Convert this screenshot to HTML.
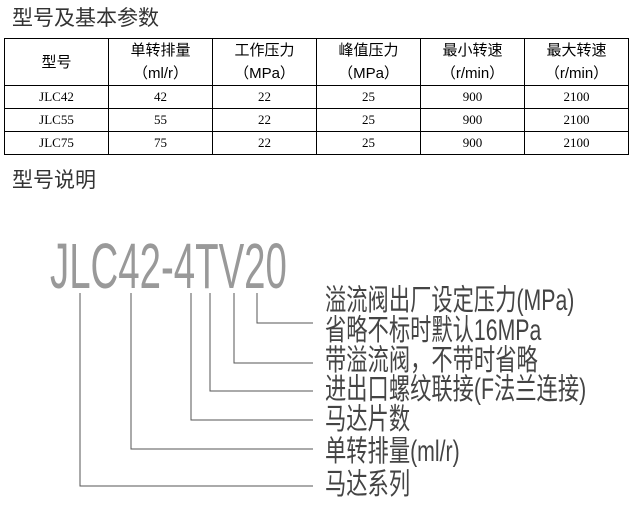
<!DOCTYPE html>
<html><head><meta charset="utf-8"><style>
html,body{margin:0;padding:0;background:#fff;width:633px;height:513px;overflow:hidden;position:relative}
.h{position:absolute;left:12px;font:21px "Liberation Sans","Noto Sans CJK SC",sans-serif;color:#333}
table{position:absolute;left:4px;top:38px;border-collapse:collapse;font:13px "Liberation Serif","Noto Serif CJK SC","Noto Sans CJK SC",serif;color:#000}
td{border:1px solid #000;text-align:center;padding:0;width:103px}
tr.hd td{height:46px;font-size:15px;line-height:23px;font-family:"Liberation Sans","Noto Sans CJK SC",sans-serif}
tr.r td{height:22px}
svg{position:absolute;left:0;top:0}
</style></head><body>
<div class="h" style="top:2px">型号及基本参数</div>
<table>
<tr class="hd"><td>型号</td><td>单转排量<br>（ml/r）</td><td>工作压力<br>（MPa）</td><td>峰值压力<br>（MPa）</td><td>最小转速<br>（r/min）</td><td>最大转速<br>（r/min）</td></tr>
<tr class="r"><td>JLC42</td><td>42</td><td>22</td><td>25</td><td>900</td><td>2100</td></tr>
<tr class="r"><td>JLC55</td><td>55</td><td>22</td><td>25</td><td>900</td><td>2100</td></tr>
<tr class="r"><td>JLC75</td><td>75</td><td>22</td><td>25</td><td>900</td><td>2100</td></tr>
</table>
<div class="h" style="top:164px">型号说明</div>
<svg width="633" height="513" viewBox="0 0 633 513">
<g stroke="#555" stroke-width="1" fill="none">
<polyline points="80,293 80,486 313,486"/>
<polyline points="131,293 131,449 313,449"/>
<polyline points="191,293 191,420 313,420"/>
<polyline points="210,293 210,391 313,391"/>
<polyline points="234,293 234,363 313,363"/>
<polyline points="257,293 257,323 313,323"/>
</g>
<g transform="translate(50,288) scale(0.6,1)">
<text x="0" y="0" font-family="Liberation Sans, sans-serif" font-size="64" fill="#999">JLC42-4TV20</text>
</g>
<g font-family="Liberation Sans, Noto Sans CJK SC, sans-serif" font-size="28" fill="#444">
<text transform="translate(325,310) scale(0.76,1.05)">溢流阀出厂设定压力(MPa)</text>
<text transform="translate(325,340) scale(0.76,1.05)">省略不标时默认16MPa</text>
<text transform="translate(325,370) scale(0.76,1.05)">带溢流阀，不带时省略</text>
<text transform="translate(325,399) scale(0.76,1.05)">进出口螺纹联接(F法兰连接)</text>
<text transform="translate(325,429) scale(0.76,1.05)">马达片数</text>
<text transform="translate(325,461) scale(0.76,1.05)">单转排量(ml/r)</text>
<text transform="translate(325,494) scale(0.76,1.05)">马达系列</text>
</g>
</svg>
</body></html>
